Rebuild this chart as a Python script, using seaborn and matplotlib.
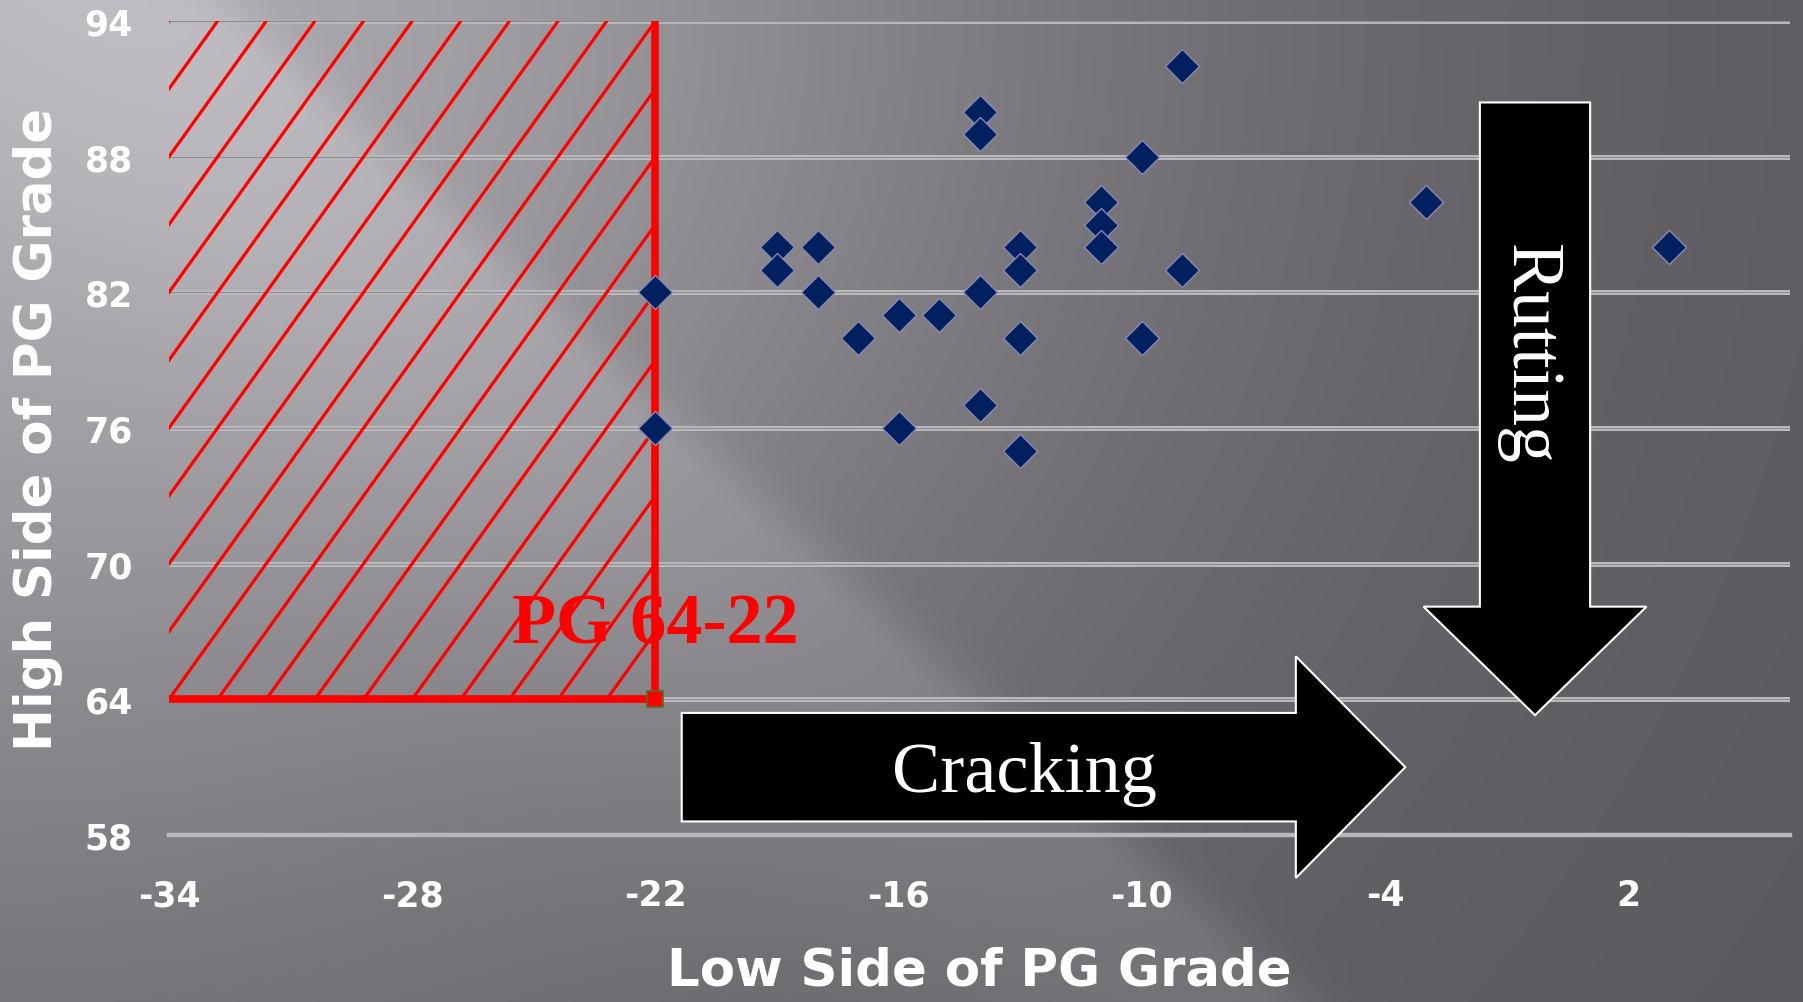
import numpy as np
import pandas as pd
import matplotlib
matplotlib.use("Agg")
import matplotlib.pyplot as plt
from matplotlib import font_manager
from matplotlib.patches import Polygon, Rectangle
import seaborn as sns

# ======================
# data
# ======================
low_side = [-22, -22, -19, -19, -18, -18, -17, -16, -16, -15, -14, -14, -14, -14,
            -13, -13, -13, -13, -11, -11, -11, -10, -10, -9, -9, -3, 3]
high_side = [82, 76, 84, 83, 84, 82, 80, 81, 76, 81, 90, 89, 82, 77,
             84, 83, 80, 75, 86, 85, 84, 88, 80, 92, 83, 86, 84]

# PG 64-22 limit (horizontal then vertical)
spec_low = [-34, -22, -22]
spec_high = [64, 64, 94]
spec_label = "PG 64-22"

x_ticks = [-34, -28, -22, -16, -10, -4, 2]
y_ticks = [58, 64, 70, 76, 82, 88, 94]
x_label = "Low Side of PG Grade"
y_label = "High Side of PG Grade"

df = pd.DataFrame({"low": low_side, "high": high_side})

# ======================
# style
# ======================
sns.set_style("white")
plt.rcParams["axes.unicode_minus"] = False
names = {f.name for f in font_manager.fontManager.ttflist}
if "Liberation Sans Narrow" in names:
    tick_font, tick_size = "Liberation Sans Narrow", 32
else:
    tick_font, tick_size = "DejaVu Sans", 25
serif = ["Liberation Serif", "DejaVu Serif"]
grid_col = "#b8b8ba"

fig = plt.figure(figsize=(18.03, 10.03), dpi=100)

# background gradient (light top-left -> dark right / bottom)
bg = fig.add_axes([0, 0, 1, 1], zorder=-10)
H, W = 300, 540
yy, xx = np.mgrid[0:1:complex(0, H), 0:1:complex(0, W)]
shade = 0.36 + 0.33 * np.exp(-(2.86 * xx ** 2 + 1.08 * yy ** 2))
d = xx - (0.10 + 0.60 * yy)
band = np.where(d < 0, np.exp(-(d / 0.22) ** 2), np.exp(-(d / 0.03) ** 2))
shade = shade + 0.07 * band
rgb = np.dstack([shade - 0.004, shade - 0.012, shade + 0.006]).clip(0, 1)
bg.imshow(rgb, aspect="auto", extent=[0, 1, 0, 1])
bg.axis("off")

ax = fig.add_axes([0.0937, 0.1665, 0.8993, 0.8115])
ax.set_facecolor("none")

# double grid lines
for yt in y_ticks[1:]:
    ax.axhline(yt, color=grid_col, lw=3.6, zorder=0.5)
    ax.axhline(yt, color="#8d8b90", lw=0.7, zorder=0.6)

# hatched region (-34..-22, 64..94)
clip_rect = Rectangle((-34, 64), 12, 30, transform=ax.transData, fill=False, lw=0)
ax.add_patch(clip_rect)
for k in range(-11, 11):
    x0 = -34 + k * 1.2
    ln, = ax.plot([x0, x0 + 12], [64, 94], color="red", lw=2.3, zorder=3)
    ln.set_clip_path(clip_rect)

ax.plot(spec_low, spec_high, color="red", lw=5.5, zorder=4,
        solid_capstyle="butt", clip_on=False)
sns.scatterplot(x=spec_low[1:2], y=spec_high[1:2], marker="s", s=130,
                color="red", edgecolor="#5a6b2a", linewidth=1.2, ax=ax,
                zorder=5, clip_on=False)

ax.text(-22, 67.3, spec_label, color="red", fontsize=52, fontweight="bold",
        family=serif, ha="center", va="center", zorder=2)

# data points
sns.scatterplot(data=df, x="low", y="high", marker="D", s=300,
                color="#002060", edgecolor="#8a88b0", linewidth=1.0,
                ax=ax, zorder=6)

# Cracking arrow
crack = Polygon([(-21.35, 58.6), (-6.2, 58.6), (-6.2, 56.1), (-3.5, 61.0),
                 (-6.2, 65.9), (-6.2, 63.4), (-21.35, 63.4)], closed=True,
                facecolor="black", edgecolor="white", lw=1.5, zorder=7,
                clip_on=False)
ax.add_patch(crack)
ax.text(-12.9, 60.7, "Cracking", color="white", fontsize=52, family=serif,
        ha="center", va="center", zorder=8)

# Rutting arrow
rut = Polygon([(-1.66, 90.4), (1.06, 90.4), (1.06, 68.1), (2.45, 68.1),
               (-0.30, 63.3), (-3.05, 68.1), (-1.66, 68.1)], closed=True,
              facecolor="black", edgecolor="white", lw=1.5, zorder=7)
ax.add_patch(rut)
ax.text(-0.45, 79.3, "Rutting", color="white", fontsize=53, family=serif,
        rotation=-90, ha="center", va="center", zorder=8)

# axes
ax.set_xlim(-34, 6)
ax.set_ylim(58, 94)
ax.set_xticks(x_ticks)
ax.set_yticks(y_ticks)
ax.grid(False)
for s in ["top", "right", "left"]:
    ax.spines[s].set_visible(False)
ax.spines["bottom"].set_color(grid_col)
ax.spines["bottom"].set_linewidth(3.2)
ax.tick_params(axis="x", direction="out", length=9, width=1.5, color=grid_col,
               pad=22, labelcolor="white", labelsize=tick_size)
ax.tick_params(axis="y", length=0, pad=26, labelcolor="white",
               labelsize=tick_size)
for lab in ax.get_xticklabels() + ax.get_yticklabels():
    lab.set_family([tick_font, "DejaVu Sans"])
    lab.set_fontweight("bold")

ax.set_xlabel(x_label, fontsize=37, fontweight="bold", color="white")
ax.set_ylabel(y_label, fontsize=37, fontweight="bold", color="white")
ax.xaxis.set_label_coords(0.5, -0.167)
ax.xaxis.label.set_va("center")
ax.yaxis.set_label_coords(-0.081, 0.5)
ax.yaxis.label.set_va("center")

fig.savefig("out.png", dpi=100)
